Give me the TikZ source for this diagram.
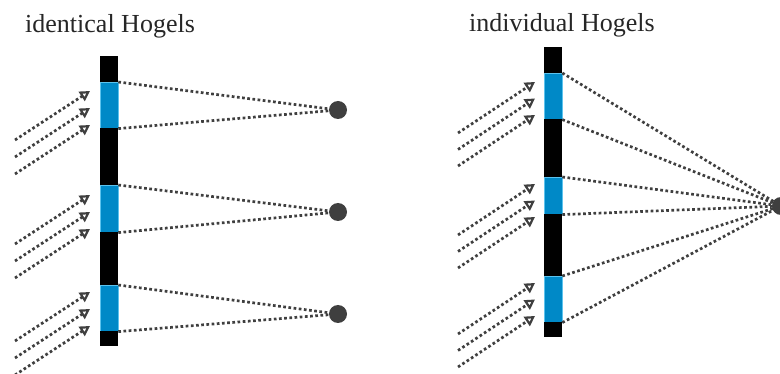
\documentclass[tikz,border=0pt]{standalone}
\usepackage{fontspec}
\setmainfont{Liberation Serif}
\usepackage{tikz}
\usetikzlibrary{arrows.meta,positioning,calc}
\definecolor{HogBlue}{HTML}{0089C7}
\definecolor{HogEdge}{HTML}{5CC3EE}
\definecolor{RayGray}{HTML}{3F3F3F}
\tikzset{
  hogtitle/.style={font=\fontsize{26}{29}\selectfont, text=black!85, anchor=base west, inner sep=0pt},
  hogblack/.style={draw=none, fill=black, minimum width=18pt, inner sep=0pt, anchor=north},
  hogblue/.style={draw=HogEdge, line width=0.6pt, fill=HogBlue, minimum width=18pt, inner sep=0pt, anchor=north},
  viewdot/.style={circle, fill=RayGray, minimum size=18pt, inner sep=0pt},
  rayline/.style={draw=RayGray, line width=2.7pt, dash pattern=on 2.7pt off 2.5pt},
  rayin/.style={rayline, -{Triangle[open, length=10pt, width=11pt, line width=2.2pt]}}
}
\begin{document}
\begin{tikzpicture}[x=1pt, y=-1pt]
\useasboundingbox (0,0) rectangle (780,374);
% titles
\node[hogtitle] (tl) at (25,33) {identical Hogels};
\node[hogtitle] (tr) at (469,32) {individual Hogels};
% left hogel bar
\node[hogblack, minimum height=26pt] (L0) at (109,56) {};
\node[hogblue, minimum height=46pt] (Lb1) at (109,82) {};
\node[hogblack, minimum height=57pt] (L1) at (109,128) {};
\node[hogblue, minimum height=47pt] (Lb2) at (109,185) {};
\node[hogblack, minimum height=53pt] (L2) at (109,232) {};
\node[hogblue, minimum height=46pt] (Lb3) at (109,285) {};
\node[hogblack, minimum height=15pt] (L3) at (109,331) {};
% left viewpoints
\node[viewdot] (dl1) at (338,110) {};
\node[viewdot] (dl2) at (338,212) {};
\node[viewdot] (dl3) at (338,314) {};
\foreach \i in {1,2,3}{
  \draw[rayline] (Lb\i.north east) -- (dl\i.center);
  \draw[rayline] (Lb\i.south east) -- (dl\i.center);
}
% left incoming light
\foreach \g/\yh in {1/91, 2/195, 3/292}{
  \foreach \k in {0,1,2}{
    \coordinate (lh\g\k) at (90,\yh+17*\k);
    \coordinate (lt\g\k) at (15,\yh+49+17*\k);
    \draw[rayin] (lt\g\k) -- (lh\g\k);
  }
}
% right hogel bar
\node[hogblack, minimum height=26pt] (R0) at (553,47) {};
\node[hogblue, minimum height=46pt] (Rb1) at (553,73) {};
\node[hogblack, minimum height=58pt] (R1) at (553,119) {};
\node[hogblue, minimum height=37pt] (Rb2) at (553,177) {};
\node[hogblack, minimum height=62pt] (R2) at (553,214) {};
\node[hogblue, minimum height=46pt] (Rb3) at (553,276) {};
\node[hogblack, minimum height=15pt] (R3) at (553,322) {};
% right viewpoint
\node[viewdot] (dr) at (781,206) {};
\foreach \i in {1,2,3}{
  \draw[rayline] (Rb\i.north east) -- (dr.center);
  \draw[rayline] (Rb\i.south east) -- (dr.center);
}
% right incoming light
\foreach \g/\yh in {1/82, 2/184, 3/283}{
  \foreach \k in {0,1,2}{
    \coordinate (rh\g\k) at (535,\yh+16.5*\k);
    \coordinate (rt\g\k) at (458,\yh+51+16.5*\k);
    \draw[rayin] (rt\g\k) -- (rh\g\k);
  }
}
\end{tikzpicture}
\end{document}
